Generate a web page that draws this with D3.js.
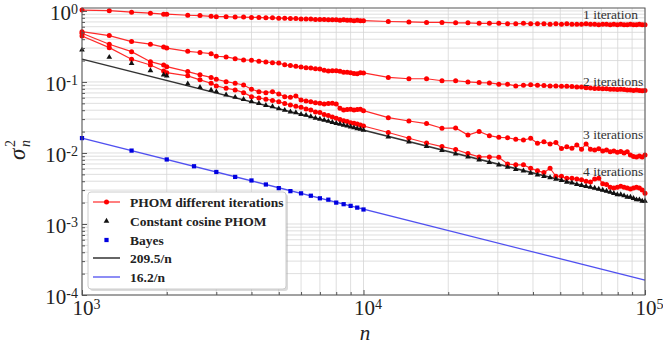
<!DOCTYPE html>
<html>
<head>
<meta charset="utf-8">
<script src="https://cdn.jsdelivr.net/npm/d3@7"></script>
<style>
body { margin: 0; background: #fff; }
svg { display: block; }
</style>
</head>
<body>
<svg id="chart" width="663" height="345"></svg>
<script>
// sample sizes used for the PHOM runs
const nPhom = [1000,1250,1500,1750,1950,2000,2375,2625,2875,3000,
    3250,3500,3750,4000,4250,4500,4750,5000,5250,5500,
    5750,6000,6250,6500,6750,7000,7250,7500,7750,8000,
    8250,8500,8750,9000,9250,9500,9750,10000,
    12250,14500,16750,19000,21250,23500,25750,28000,30250,32500,
    34750,37000,39250,41500,43750,46000,48250,50500,52750,55000,
    57250,59500,61750,64000,66250,68500,70750,73000,75250,77500,
    79750,82000,84250,86500,88750,91000,93250,95500,97750,100000];

const iter1 = [1.03,1.01,0.96,0.93,0.90,0.90,0.87,0.86,0.84,0.83,
    0.83,0.82,0.82,0.81,0.81,0.80,0.80,0.79,0.79,0.78,
    0.78,0.77,0.77,0.77,0.76,0.76,0.76,0.75,0.75,0.75,
    0.74,0.75,0.74,0.74,0.73,0.74,0.73,0.73,
    0.71,0.70,0.69,0.69,0.68,0.68,0.67,0.67,0.67,0.66,
    0.66,0.67,0.66,0.66,0.66,0.65,0.66,0.65,0.66,0.65,
    0.65,0.65,0.66,0.65,0.65,0.64,0.65,0.65,0.64,0.65,
    0.64,0.65,0.64,0.64,0.65,0.64,0.64,0.65,0.64,0.64];

const iter2 = [0.51,0.45,0.37,0.34,0.31,0.30,0.27,0.26,0.25,0.23,
    0.225,0.213,0.204,0.202,0.196,0.191,0.187,0.185,0.174,0.170,
    0.166,0.163,0.159,0.157,0.154,0.152,0.146,0.143,0.144,0.144,
    0.141,0.137,0.137,0.135,0.132,0.130,0.135,0.134,
    0.116,0.111,0.111,0.104,0.104,0.100,0.098,0.097,0.093,0.093,
    0.088,0.090,0.091,0.090,0.089,0.088,0.088,0.087,0.087,0.086,
    0.085,0.085,0.083,0.082,0.081,0.081,0.080,0.080,0.079,0.079,
    0.078,0.079,0.078,0.077,0.077,0.076,0.077,0.076,0.075,0.076];

const iter3 = [0.485,0.34,0.267,0.193,0.173,0.164,0.140,0.126,0.116,0.109,
    0.101,0.0959,0.0907,0.0789,0.0730,0.0707,0.0730,0.0678,0.0621,0.0609,
    0.0635,0.0558,0.0540,0.0528,0.0511,0.0501,0.0490,0.0498,0.0501,0.0490,
    0.0426,0.0403,0.0410,0.0413,0.0403,0.0410,0.0413,0.0394,
    0.0314,0.0282,0.0259,0.0223,0.0225,0.0179,0.0201,0.0175,0.0166,0.0164,
    0.0156,0.0152,0.0161,0.0137,0.0144,0.0134,0.0140,0.0116,0.0122,0.0117,
    0.0130,0.0113,0.0134,0.0113,0.0110,0.0115,0.0107,0.0110,0.0104,0.0107,
    0.0102,0.0105,0.0100,0.0104,0.0094,0.0089,0.0088,0.0091,0.0088,0.0094];

const iter4 = [0.444,0.304,0.209,0.173,0.143,0.135,0.122,0.107,0.096,0.088,
    0.0815,0.0772,0.0707,0.0621,0.0595,0.0571,0.0549,0.0528,0.0498,0.0474,
    0.0455,0.0440,0.0417,0.0403,0.0378,0.0370,0.0348,0.0337,0.0321,0.0308,
    0.0296,0.0285,0.0278,0.0267,0.0262,0.0256,0.0248,0.0240,
    0.0194,0.0161,0.0138,0.0123,0.0112,0.0098,0.0088,0.0088,0.0087,0.0070,
    0.0068,0.0068,0.0061,0.0056,0.0053,0.0061,0.0047,0.0047,0.0044,0.0044,
    0.0043,0.0042,0.0040,0.0039,0.0043,0.0044,0.0037,0.0036,0.0033,0.0032,
    0.0033,0.0034,0.0033,0.0032,0.0031,0.0032,0.0033,0.0032,0.0030,0.0027];

const cosinePhom = [0.282,0.223,0.183,0.145,0.126,0.122,0.094,0.084,0.077,0.073,
    0.066,0.061,0.057,0.053,0.050,0.047,0.045,0.042,0.040,0.038,
    0.037,0.035,0.034,0.0325,0.031,0.030,0.029,0.028,0.027,0.0262,
    0.0255,0.0247,0.024,0.0234,0.0227,0.0221,0.0216,0.021,
    0.0168,0.0143,0.0124,0.0109,0.0097,0.0088,0.0080,0.0074,0.0068,0.0063,
    0.0059,0.0056,0.0052,0.0049,0.0047,0.0045,0.0043,0.0041,0.0039,0.0038,
    0.0036,0.0035,0.0034,0.0033,0.0032,0.0031,0.0030,0.0029,0.0028,0.0027,
    0.0026,0.0026,0.0025,0.0024,0.0024,0.0023,0.0022,0.0022,0.0021,0.0021];

const nBayes = [1000,1500,2000,2500,3000,3500,4000,4500,5000,5500,
    6000,6500,7000,7500,8000,8500,9000,9500,10000];
const bayes = [0.0162,0.0108,0.0081,0.0065,0.0054,0.0046,0.0041,0.0036,0.0032,0.0029,
    0.0027,0.0025,0.0023,0.0022,0.0020,0.0019,0.0018,0.0017,0.0016];

// fitted C/n lines
const nFit = [1000, 100000];
const fit209 = [0.2095, 0.002095];
const fit16 = [0.0162, 0.000162];

const iterLabels = ["1 iteration", "2 iterations", "3 iterations", "4 iterations"];
const legendLabels = ["PHOM different iterations", "Constant cosine PHOM", "Bayes", "209.5/n", "16.2/n"];
const xMajor = [1e3, 1e4, 1e5];
const yMajor = [1e0, 1e-1, 1e-2, 1e-3, 1e-4];

const serif = '"Liberation Serif", "Times New Roman", serif';

let svg = d3.select("#chart").style("font-family", serif);

let x = d3.scaleLog().domain([1000, 100000]).range([82, 645]);
let y = d3.scaleLog().domain([1e-4, 1.1]).range([295, 8]);

let plot = svg.append("g");

// grid (major + minor)
plot.append("g").selectAll("line").data(x.ticks()).join("line")
    .attr("x1", d => x(d)).attr("x2", d => x(d))
    .attr("y1", y.range()[0]).attr("y2", y.range()[1])
    .attr("stroke", "#d6d6d6").attr("stroke-width", 0.8);
plot.append("g").selectAll("line").data(y.ticks()).join("line")
    .attr("x1", x.range()[0]).attr("x2", x.range()[1])
    .attr("y1", d => y(d)).attr("y2", d => y(d))
    .attr("stroke", "#d6d6d6").attr("stroke-width", 0.8);

let line = d3.line().x(d => x(d[0])).y(d => y(d[1]));

// fit lines
plot.append("path").datum(nFit.map((n, i) => [n, fit16[i]]))
    .attr("d", line).attr("fill", "none").attr("stroke", "#5050f0").attr("stroke-width", 1.3);
plot.append("path").datum(nFit.map((n, i) => [n, fit209[i]]))
    .attr("d", line).attr("fill", "none").attr("stroke", "#333").attr("stroke-width", 1.5);

// PHOM iterations
[iter1, iter2, iter3, iter4].forEach(series => {
    let pts = nPhom.map((n, i) => [n, series[i]]);
    plot.append("path").datum(pts)
        .attr("d", line).attr("fill", "none")
        .attr("stroke", "#ff2a2a").attr("stroke-width", 1.2);
    plot.append("g").selectAll("circle").data(pts).join("circle")
        .attr("cx", d => x(d[0])).attr("cy", d => y(d[1]))
        .attr("r", 2.5).attr("fill", "#ff0000");
});

// constant cosine PHOM
let tri = d3.symbol(d3.symbolTriangle).size(14);
plot.append("g").selectAll("path").data(nPhom.map((n, i) => [n, cosinePhom[i]])).join("path")
    .attr("d", tri)
    .attr("transform", d => `translate(${x(d[0])},${y(d[1])})`)
    .attr("fill", "#111");

// Bayes
let sq = d3.symbol(d3.symbolSquare).size(18);
plot.append("g").selectAll("path").data(nBayes.map((n, i) => [n, bayes[i]])).join("path")
    .attr("d", sq)
    .attr("transform", d => `translate(${x(d[0])},${y(d[1])})`)
    .attr("fill", "#0000e0");

// axes
let xAxis = svg.append("g").attr("transform", `translate(0,${y.range()[0]})`)
    .call(d3.axisBottom(x).tickValues(xMajor).tickSize(-5).tickPadding(5).tickFormat(() => "10"));
let xMinor = svg.append("g").attr("transform", `translate(0,${y.range()[0]})`)
    .call(d3.axisBottom(x).tickValues(x.ticks().filter(d => !xMajor.includes(d))).tickSize(-3).tickFormat(""));
let yAxis = svg.append("g").attr("transform", `translate(${x.range()[0]},0)`)
    .call(d3.axisLeft(y).tickValues(yMajor).tickSize(-5).tickPadding(4).tickFormat(() => "10"));
let yMinor = svg.append("g").attr("transform", `translate(${x.range()[0]},0)`)
    .call(d3.axisLeft(y).tickValues(y.ticks().filter(d => !yMajor.includes(d))).tickSize(-3).tickFormat(""));

[xAxis, xMinor, yAxis, yMinor].forEach(g => {
    g.attr("font-family", null);
    g.select(".domain").remove();
    g.selectAll(".tick line").attr("stroke", "#555");
});

// 10 with the exponent as superscript
[xAxis, yAxis].forEach(g => {
    g.selectAll(".tick text").each(function(d) {
        let t = d3.select(this);
        t.text("").style("font-family", serif).style("font-size", "21px").attr("fill", "#222");
        t.append("tspan").text("10");
        t.append("tspan").attr("dy", "-0.45em").style("font-size", "14px").text(Math.round(Math.log10(d)));
    });
});
xAxis.selectAll(".tick text").attr("dx", 4);
yAxis.selectAll(".tick text").attr("dy", "0.42em");

// frame
svg.append("rect")
    .attr("x", x.range()[0]).attr("y", y.range()[1])
    .attr("width", x.range()[1] - x.range()[0]).attr("height", y.range()[0] - y.range()[1])
    .attr("fill", "none").attr("stroke", "#555").attr("stroke-width", 1);

// axis titles
svg.append("text").attr("x", 365).attr("y", 340)
    .attr("text-anchor", "middle").style("font-family", serif).style("font-size", "21px").style("font-style", "italic")
    .attr("fill", "#222").text("n");

let ylab = svg.append("g").attr("transform", "translate(25,150) rotate(-90)")
    .style("font-family", serif).attr("fill", "#222");
ylab.append("text").attr("x", -10).attr("y", 0).style("font-size", "23px").style("font-style", "italic").text("σ");
ylab.append("text").attr("x", 3).attr("y", -10).style("font-size", "14px").text("2");
ylab.append("text").attr("x", 3).attr("y", 5).style("font-size", "14px").style("font-style", "italic").text("n");

// iteration labels at the right
let iterLabelY = [19, 86, 139, 176];
svg.append("g").selectAll("text").data(iterLabels).join("text")
    .attr("x", 583).attr("y", (d, i) => iterLabelY[i])
    .style("font-family", serif).style("font-size", "13.5px").attr("fill", "#333")
    .text(d => d);

// legend
let lg = svg.append("g").attr("transform", "translate(88,192)");
lg.append("rect").attr("x", 2).attr("y", 2).attr("width", 198).attr("height", 97)
    .attr("rx", 3).attr("fill", "#999").attr("opacity", 0.35);
lg.append("rect").attr("width", 198).attr("height", 97)
    .attr("rx", 3).attr("fill", "#fff").attr("stroke", "#ccc");

let rowY = [10, 29, 48, 66, 85];
lg.selectAll("text").data(legendLabels).join("text")
    .attr("x", 42).attr("y", (d, i) => rowY[i] + 4.5)
    .style("font-family", serif).style("font-size", "13.5px").style("font-weight", "bold").attr("fill", "#222")
    .text(d => d);

lg.append("line").attr("x1", 5).attr("x2", 32).attr("y1", rowY[0]).attr("y2", rowY[0])
    .attr("stroke", "#ff2a2a").attr("stroke-width", 1.2);
lg.append("circle").attr("cx", 18.5).attr("cy", rowY[0]).attr("r", 2.5).attr("fill", "#ff0000");
lg.append("path").attr("d", tri).attr("transform", `translate(18.5,${rowY[1]})`).attr("fill", "#111");
lg.append("path").attr("d", sq).attr("transform", `translate(18.5,${rowY[2]})`).attr("fill", "#0000e0");
lg.append("line").attr("x1", 5).attr("x2", 32).attr("y1", rowY[3]).attr("y2", rowY[3])
    .attr("stroke", "#333").attr("stroke-width", 1.5);
lg.append("line").attr("x1", 5).attr("x2", 32).attr("y1", rowY[4]).attr("y2", rowY[4])
    .attr("stroke", "#5050f0").attr("stroke-width", 1.3);
</script>
</body>
</html>
